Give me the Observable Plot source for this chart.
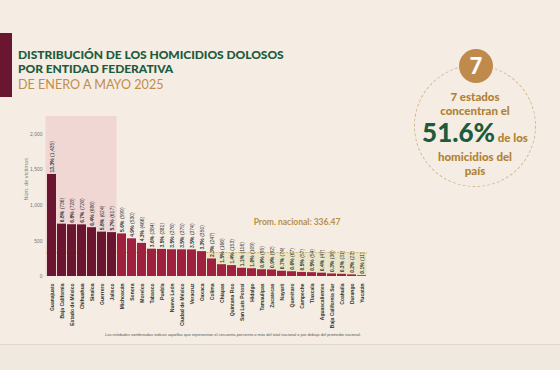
<!DOCTYPE html>
<html><head><meta charset="utf-8">
<script src="https://cdn.jsdelivr.net/npm/d3@7"></script>
<script src="https://cdn.jsdelivr.net/npm/@observablehq/plot@0.6"></script>
<style>
html,body{margin:0;padding:0;}
body{width:560px;height:370px;background:#f5ede3;position:relative;overflow:hidden;font-family:Lato,"Open Sans",sans-serif;}
.abs{position:absolute;}
#chart{position:absolute;left:0;top:0;}
.title{left:18px;top:48px;color:#1e5b3d;font-weight:900;font-size:12px;line-height:14px;letter-spacing:-0.05px;}
.sub{left:18px;top:77px;color:#c28c4d;font-size:12.6px;font-weight:400;}
.stripe{left:0;top:33px;width:12px;height:64px;background:#6b1631;}
.ring{left:414px;top:65px;width:122px;height:122px;border:1px dashed #d4b68e;border-radius:50%;box-sizing:border-box;}
.badge{left:459px;top:49px;width:34px;height:34px;border-radius:50%;background:#bf8a4c;color:#fff;font-weight:900;font-size:22px;line-height:34px;text-align:center;}
.rt{left:400px;width:150px;text-align:center;color:#b08334;font-weight:900;font-size:11.5px;line-height:13px;}
.big{color:#1e5b3d;font-size:26px;font-weight:900;}
.cap{left:105px;top:332px;font-size:4px;color:#555;white-space:nowrap;font-family:"Liberation Sans",sans-serif;}
.band{left:0;top:344px;width:560px;height:26px;background:#efe9e0;border-top:1px solid #e0d8cc;}
</style></head>
<body>
<div class="abs band"></div>
<div id="chart"></div>
<div class="abs stripe"></div>
<div class="abs title">DISTRIBUCIÓN DE LOS HOMICIDIOS DOLOSOS<br>POR ENTIDAD FEDERATIVA</div>
<div class="abs sub">DE ENERO A MAYO 2025</div>
<div class="abs ring"></div>
<div class="abs badge">7</div>
<div class="abs rt" style="top:90px">7 estados</div>
<div class="abs rt" style="top:104px">concentran el</div>
<div class="abs rt" style="top:118px;line-height:28px"><span class="big">51.6%</span> de los</div>
<div class="abs rt" style="top:150px">homicidios del</div>
<div class="abs rt" style="top:164px">país</div>
<div class="abs cap">Las entidades sombreadas indican aquellas que representan el cincuenta porciento o más del total nacional o por debajo del promedio nacional.</div>
<script>
const states = ["Guanajuato","Baja California","Estado de México","Chihuahua","Sinaloa","Guerrero","Jalisco","Michoacán","Sonora","Morelos","Tabasco","Puebla","Nuevo León","Ciudad de México","Veracruz","Oaxaca","Colima","Chiapas","Quintana Roo","San Luis Potosí","Hidalgo","Tamaulipas","Zacatecas","Nayarit","Querétaro","Campeche","Tlaxcala","Aguascalientes","Baja California Sur","Coahuila","Durango","Yucatán"];
const victims = [1435,736,728,726,686,624,617,599,530,466,384,381,376,375,374,350,247,166,153,116,109,95,92,74,67,57,54,47,36,31,23,11];
const shares = [13.3,6.8,6.8,6.7,6.4,5.8,5.7,5.6,4.9,4.3,3.6,3.5,3.5,3.5,3.5,3.3,2.3,1.5,1.4,1.1,1.0,0.9,0.9,0.7,0.6,0.5,0.5,0.4,0.3,0.3,0.2,0.1];
const topCount = 7;
const nationalAvg = 336.47;
const yTicks = [0,500,1000,1500,2000];
const yMax = 2250;

const data = states.map((s,i)=>({state:s, value:victims[i], share:shares[i], top:i<topCount, below:victims[i]<nationalAvg}));
const fmt = d3.format(",");

const plot = Plot.plot({
  width:560, height:370,
  marginLeft:46, marginRight:193, marginTop:116, marginBottom:94,
  style:{background:"transparent", fontFamily:"Liberation Sans, Arial, sans-serif"},
  x:{domain:states, paddingInner:0.1, paddingOuter:0.05},
  y:{domain:[0,yMax]},
  marks:[
    Plot.barY(data.filter(d=>d.top), {x:"state", y:yMax, fill:"#f1d7d3", insetLeft:-1.5, insetRight:-0.6}),
    Plot.barY(data.filter(d=>d.below), {x:"state", y1:0, y2:nationalAvg, fill:"#ebe5c8", insetLeft:-0.6, insetRight:-0.6}),
    Plot.ruleY([nationalAvg], {stroke:"#cba95f", strokeWidth:0.8, strokeDasharray:"2,1.2"}),
    Plot.barY(data, {x:"state", y:"value", fill:d=>d.top?"#6b1631":"#a0213f"}),
    Plot.text(data, {x:"state", y:"value", text:d=>`${d.share.toFixed(1)}% (${fmt(d.value)})`, rotate:-90, textAnchor:"start", dy:-2, fontSize:5, fill:"#333"}),
    Plot.text(["Prom. nacional: 336.47"], {x:()=>"Querétaro", y:()=>nationalAvg, dy:-30, dx:5, fontSize:8.5, fontWeight:"bold", fill:"#b8904a", fontFamily:"Lato, sans-serif"}),
    Plot.text(["Núm. de víctimas"], {frameAnchor:"left", rotate:-90, dx:-20, dy:4, fontSize:5.5, fill:"#888"}),
    Plot.axisY({ticks:yTicks, tickFormat:d=>fmt(d), tickSize:0, tickPadding:4, fontSize:5, color:"#777", label:null}),
    Plot.axisX({tickRotate:-90, tickSize:0, tickPadding:7, fontSize:5, color:"#333", label:null})
  ]
});
document.getElementById("chart").appendChild(plot);
const svg = d3.select(plot);
svg.selectAll('g[aria-label="x-axis tick label"] text').attr("font-weight","bold");
svg.selectAll("text").each(function(){
  const t = this.textContent;
  const m = t.match(/^([\d.]+%) (\(.*\))$/);
  if(m){
    const el = d3.select(this);
    el.text(null);
    el.append("tspan").attr("font-weight","bold").text(m[1]+" ");
    el.append("tspan").text(m[2]);
  }
});
</script>
</body></html>
